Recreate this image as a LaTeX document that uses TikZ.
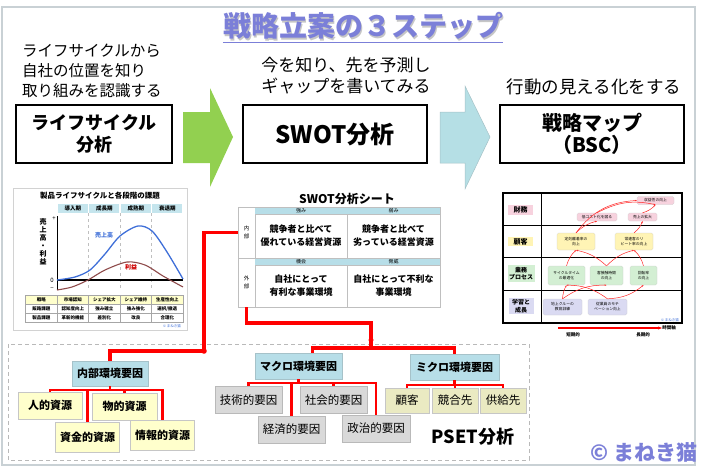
\documentclass[tikz,border=0pt]{standalone}
\usepackage{fontspec}
\setmainfont{Noto Sans CJK JP}
\usepackage{xcolor}
\usetikzlibrary{positioning, arrows.meta}

\definecolor{titleviolet}{HTML}{7B7FD8}
\definecolor{framegray}{HTML}{C9D1D5}
\definecolor{arrowgreen}{HTML}{92D050}
\definecolor{arrowblue}{HTML}{B5DFE5}
\definecolor{factorblue}{HTML}{B7DEE8}
\definecolor{resyellow}{HTML}{FFFFCC}
\definecolor{envgray}{HTML}{D9D9D9}
\definecolor{microkhaki}{HTML}{EAEAC2}
\definecolor{salesblue}{HTML}{3F6FD8}
\definecolor{profitbrown}{HTML}{8E4A4A}
\definecolor{bscpink}{HTML}{F7D2DE}
\definecolor{bscyellow}{HTML}{FFF4B5}
\definecolor{bscgreen}{HTML}{D3EFD3}
\definecolor{bsclav}{HTML}{DADAF2}

\newcommand{\jpsize}[2]{\fontsize{#1}{#2}\selectfont}

\begin{document}
\begin{tikzpicture}[x=1pt, y=-1pt,
    every node/.style={inner sep=0pt},
    desc/.style={align=left, font=\jpsize{16}{20}},
    stepbox/.style={draw, line width=1.6pt, minimum height=58, align=center, font=\bfseries\jpsize{18}{22}},
    factor/.style={fill=factorblue, draw=factorblue!70!gray, line width=0.4pt, minimum height=25, font=\bfseries\jpsize{11}{13}},
    resbox/.style={fill=resyellow, draw=gray!45, line width=0.6pt, minimum width=64, minimum height=27, font=\bfseries\jpsize{11}{13}},
    macrobox/.style={fill=envgray, draw=gray!55, line width=0.6pt, minimum width=67, minimum height=27, font=\jpsize{11.5}{13}},
    microbox/.style={fill=microkhaki, draw=gray!45, line width=0.6pt, minimum width=45, minimum height=25, font=\jpsize{11.5}{13}},
    redline/.style={red, line width=3.5pt},
    redbranch/.style={red, line width=2.5pt},
    phase/.style={fill=factorblue!80, minimum width=30, minimum height=9, font=\bfseries\jpsize{5.5}{6}},
    lccell/.style={draw=gray!70, line width=0.4pt, minimum width=31.5, minimum height=9, font=\bfseries\jpsize{4.5}{5}},
    swcell/.style={draw=gray!50, line width=0.4pt, align=center, font=\bfseries\jpsize{9}{13}},
    swhead/.style={fill=factorblue, minimum height=7, font=\jpsize{5}{6}},
    swside/.style={draw=gray!50, line width=0.4pt, minimum width=17, align=center, font=\jpsize{5.5}{8}},
    bsclab/.style={minimum width=25, inner sep=1.5pt, align=center, font=\bfseries\jpsize{7}{8}},
    bscobj/.style={rounded corners=1.5pt, draw=gray!40, line width=0.3pt, align=center, font=\jpsize{3.8}{5}},
    bscarrow/.style={red!85, line width=0.5pt, -{Stealth[length=2pt]}},
    timearrow/.style={red, line width=1.8pt, -{Stealth[length=4pt]}}
  ]
  \useasboundingbox (0,0) rectangle (704,474);
  \draw[framegray, line width=2pt] (2,7) rectangle (695,465);

  \node (titleshade) [text=gray!45, font=\bfseries\jpsize{28}{30}] at (364.5,27.5) {戦略立案の３ステップ};
  \node (title) [text=titleviolet, font=\bfseries\jpsize{28}{30}] at (363,26) {戦略立案の３ステップ};
  \draw[titleviolet, line width=1.2pt] ([yshift=-3pt]title.south west) -- ([yshift=-3pt]title.south east);

  \node (desclc) [desc, font=\jpsize{15.5}{20}, anchor=west] at (22,71) {ライフサイクルから\\自社の位置を知り\\取り組みを認識する};
  \node (descswot) [desc, align=center, font=\jpsize{17}{21.5}] at (346,75.5) {今を知り、先を予測し\\ギャップを書いてみる};
  \node (descbsc) [desc, font=\jpsize{17.5}{20}] at (594,87) {行動の見える化をする};

  \node (lcbox) [stepbox, minimum width=156] at (94,134) {ライフサイクル\\分析};
  \node (swotbox) [stepbox, minimum width=184, font=\bfseries\jpsize{24}{26}] at (335,134) {SWOT分析};
  \node (bscbox) [stepbox, minimum width=184, font=\bfseries\jpsize{20}{22}] at (592,134) {戦略マップ\\（BSC）};

  \fill[arrowgreen] (183,112) -- (210,112) -- (210,88) -- (233,137) -- (210,187) -- (210,163) -- (183,163) -- cycle;
  \filldraw[fill=arrowblue, draw=arrowblue!70!gray, line width=0.5pt] (440,112) -- (465,112) -- (465,86) -- (490,137) -- (465,189) -- (465,163) -- (440,163) -- cycle;

  % life cycle sheet
  \node (lcframe) [draw=gray!35, line width=0.6pt, minimum width=174, minimum height=142] at (100,259) {};
  \node (lctitle) [font=\bfseries\jpsize{7.5}{8}] at (100,196) {製品ライフサイクルと各段階の課題};
  \foreach \t [count=\i] in {導入期,成長期,成熟期,衰退期}
    \node (ph\i) [phase] at ({41.25+31.5*\i},208.5) {\t};
  \foreach \x in {88.5,120,151.5}
    \draw[gray!50, dashed, line width=0.4pt] (\x,213) -- (\x,290);
  \draw[line width=0.8pt] (57,216) -- (57,290);
  \draw[line width=1.4pt] (57,280) -- (183,280);
  \node (lcplus) [font=\jpsize{6}{6}] at (54,219) {+};
  \node (lczero) [font=\jpsize{6}{6}] at (52,280) {0};
  \node (lcminus) [font=\jpsize{6}{6}] at (52,289) {−};
  \node (lcylab) [align=center, font=\bfseries\jpsize{7}{8}] at (43,242) {売\\上\\高\\・\\利\\益};
  \draw[salesblue, line width=1.3pt] plot[smooth] coordinates {(57,280) (75,277) (90,270) (105,254) (120,236) (138,226) (152,231) (167,252) (183,279)};
  \draw[profitbrown, line width=1.1pt] plot[smooth] coordinates {(57,290) (72,287) (88,280) (105,270) (127,262) (145,265) (163,276) (183,287)};
  \node (lcsales) [text=salesblue, font=\bfseries\jpsize{6}{6}] at (104,235) {売上高};
  \node (lcprofit) [text=red!80!black, font=\bfseries\jpsize{6}{6}] at (131,267) {利益};
  \foreach \t [count=\i] in {戦略,市場認知,シェア拡大,シェア維持,生産性向上}
    \node (lcta\i) [lccell, fill=resyellow] at ({9.75+31.5*\i},299.5) {\t};
  \foreach \t [count=\i] in {販路課題,認知度向上,強み確立,強み強化,選択/撤退}
    \node (lctb\i) [lccell] at ({9.75+31.5*\i},308.5) {\t};
  \foreach \t [count=\i] in {製品課題,革新的機能,差別化,改良,合理化}
    \node (lctc\i) [lccell] at ({9.75+31.5*\i},317.5) {\t};
  \node (lccopy) [text=salesblue, font=\jpsize{3.5}{4}] at (172,326) {© まねき猫};

  % swot sheet
  \node (swtitle) [font=\bfseries\jpsize{12}{13}] at (347,199) {SWOT分析シート};
  \node (swnai) [swside, minimum height=51] at (246.5,232.5) {内\\部};
  \node (swgai) [swside, minimum height=49] at (246.5,282.5) {外\\部};
  \node (swS) [swhead, minimum width=92] at (301,210.5) {強み};
  \node (swW) [swhead, minimum width=93] at (393.5,210.5) {弱み};
  \node (swO) [swhead, minimum width=92] at (301,261.5) {機会};
  \node (swT) [swhead, minimum width=93] at (393.5,261.5) {脅威};
  \node (swSt) [swcell, minimum width=92, minimum height=44] at (301,236) {競争者と比べて\\優れている経営資源};
  \node (swWt) [swcell, minimum width=93, minimum height=44] at (393.5,236) {競争者と比べて\\劣っている経営資源};
  \node (swOt) [swcell, minimum width=92, minimum height=42] at (301,286) {自社にとって\\有利な事業環境};
  \node (swTt) [swcell, minimum width=93, minimum height=42] at (393.5,286) {自社にとって不利な\\事業環境};
  \draw[gray!50, line width=0.4pt] (238,207) rectangle (440,307);

  % strategy map
  \node (bscframe) [draw, line width=1.2pt, minimum width=179, minimum height=130] at (592.5,258) {};
  \draw[line width=1pt] (541,193) -- (541,323);
  \foreach \y in {225,257,290}
    \draw[line width=1pt] (503,\y) -- (682,\y);
  \node (bfin) [bsclab, fill=bscpink] at (520.5,210) {財務};
  \node (bcus) [bsclab, fill=bscyellow] at (520.5,241.5) {顧客};
  \node (bpro) [bsclab, fill=bscgreen, font=\bfseries\jpsize{6}{7.5}] at (521,273.5) {業務\\プロセス};
  \node (blea) [bsclab, fill=bsclav, font=\bfseries\jpsize{6}{7.5}] at (521,306) {学習と\\成長};
  \node (fin1) [bscobj, fill=bscpink, minimum width=37, minimum height=8] at (655.5,200.5) {収益性の向上};
  \node (fin2) [bscobj, fill=bscpink, minimum width=40, minimum height=8] at (597,217) {低コスト化を図る};
  \node (fin3) [bscobj, fill=bscpink, minimum width=29, minimum height=8] at (642.5,217) {売上の拡大};
  \node (cus1) [bscobj, fill=bscyellow, minimum width=38, minimum height=17] at (576,241.5) {定刻離着率の\\向上};
  \node (cus2) [bscobj, fill=bscyellow, minimum width=38, minimum height=17] at (634,241.5) {常連客のリ\\ピート率の向上};
  \node (pro1) [bscobj, fill=bscgreen, minimum width=37, minimum height=19] at (566.5,275.5) {サイクルタイム\\の最適化};
  \node (pro2) [bscobj, fill=bscgreen, minimum width=33, minimum height=19] at (606.5,275.5) {客接触時間\\の向上};
  \node (pro3) [bscobj, fill=bscgreen, minimum width=27, minimum height=19] at (643.5,275.5) {回転率\\の向上};
  \node (lea1) [bscobj, fill=bsclav, minimum width=39, minimum height=16] at (562.5,307) {地上クルーの\\教育訓練};
  \node (lea2) [bscobj, fill=bsclav, minimum width=39, minimum height=16] at (607.5,307) {従業員のモチ\\ベーション向上};
  \node (bsccopy) [text=salesblue, font=\jpsize{3.5}{4}] at (670,320) {© まねき猫};
  \draw[bscarrow] (lea1.north) to[bend left=12] (pro1.south);
  \draw[bscarrow] (lea1.north) to[bend left=18] (pro2.south);
  \draw[bscarrow] (lea2.north) to[bend right=18] (pro1.south);
  \draw[bscarrow] (lea2.north) to[bend right=18] (pro3.south);
  \draw[bscarrow] (pro1.north) to[bend left=15] (cus1.south);
  \draw[bscarrow] (pro2.north) to[bend right=15] (cus1.south);
  \draw[bscarrow] (pro2.north) to[bend left=15] (cus2.south);
  \draw[bscarrow] (pro3.north) to[bend right=15] (cus2.south);
  \draw[bscarrow] (cus1.north) to[bend left=15] (fin2.south);
  \draw[bscarrow] (cus1.north) to[bend left=25] (fin1.west);
  \draw[bscarrow] (cus2.north) to[bend right=15] (fin3.south);
  \draw[bscarrow] (fin2.north) to[bend left=20] (fin1.south);
  \draw[bscarrow] (fin3.north) to[bend right=15] (fin1.south);
  \node (tshort) [font=\bfseries\jpsize{4.5}{5}] at (573,335) {短期的};
  \node (tlong) [font=\bfseries\jpsize{4.5}{5}] at (643,335) {長期的};
  \node (taxis) [font=\bfseries\jpsize{4.5}{5}] at (669,328) {時間軸};
  \coordinate (tstart) at (558,328);
  \draw[timearrow] (tstart) -- (taxis.west);

  % pset
  \draw[gray!55, line width=0.8pt, dash pattern=on 4pt off 3pt] (8,344) rectangle (529,460);
  \node (naibu) [factor, minimum width=76] at (110,373.5) {内部環境要因};
  \node (jinteki) [resbox] at (50,405.5) {人的資源};
  \node (butteki) [resbox, minimum width=65] at (124.5,406.5) {物的資源};
  \node (shikin) [resbox, minimum height=30] at (87.5,437) {資金的資源};
  \node (jouhou) [resbox, minimum height=30] at (162.5,435.5) {情報的資源};
  \node (makuro) [factor, minimum width=87, minimum height=26] at (298.5,366) {マクロ環境要因};
  \node (gijutsu) [macrobox] at (248.5,400) {技術的要因};
  \node (shakai) [macrobox] at (333.5,400) {社会的要因};
  \node (keizai) [macrobox] at (291.5,429.5) {経済的要因};
  \node (seiji) [macrobox, minimum width=68] at (376,428.5) {政治的要因};
  \node (mikuro) [factor, minimum width=89, minimum height=26] at (454.5,367) {ミクロ環境要因};
  \node (kokyaku) [microbox, minimum width=44] at (407,400.5) {顧客};
  \node (kyougou) [microbox, minimum width=46] at (455,400.5) {競合先};
  \node (kyoukyu) [microbox, minimum width=46] at (503,400.5) {供給先};
  \node (pset) [font=\bfseries\jpsize{18}{20}] at (473,437) {PSET分析};
  \node (copyright) [text=titleviolet, font=\bfseries\jpsize{21}{22}] at (644,452) {© まねき猫};

  \coordinate (jL) at (204,351);
  \coordinate (jM) at (371,348);
  \coordinate (jD) at (371,340);
  \draw[redline] (swnai.west) -| (jL) -| (naibu.north);
  \draw[redline] (swgai.south) -- ++(0,16) -| (jM);
  \draw[redline] ([xshift=14pt]makuro.north) |- (jM) -| (mikuro.north);
  \fill[red] (jL) circle (2.8);
  \fill[red] (jD) circle (2.5);

  \draw[redbranch] (naibu.south) -- ++(0,4) coordinate (nbr);
  \draw[redbranch] (jinteki.north) |- (nbr) -| (jouhou.north);
  \draw[redbranch] (shikin.north) -- (shikin.north |- nbr);
  \draw[redbranch] (butteki.north) -- (butteki.north |- nbr);
  \draw[redbranch] (makuro.south) -- ++(0,4) coordinate (mbr);
  \draw[redbranch] (gijutsu.north) |- (mbr) -| (seiji.north);
  \draw[redbranch] (keizai.north) -- (keizai.north |- mbr);
  \draw[redbranch] (shakai.north) -- (shakai.north |- mbr);
  \draw[redbranch] (mikuro.south) -- ++(0,5) coordinate (mibr);
  \draw[redbranch] (kokyaku.north) |- (mibr) -| (kyoukyu.north);
  \draw[redbranch] (kyougou.north) -- (kyougou.north |- mibr);
\end{tikzpicture}
\end{document}
